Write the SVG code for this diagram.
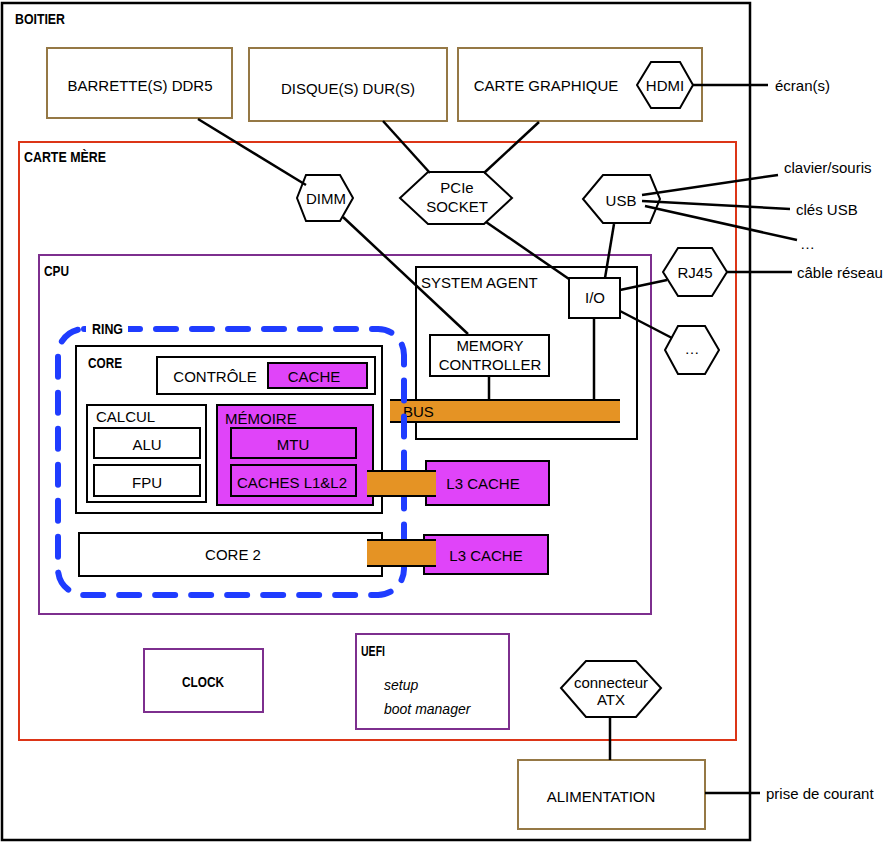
<svg xmlns="http://www.w3.org/2000/svg" width="894" height="842" viewBox="0 0 894 842">
<style>
text{font-family:"Liberation Sans",Arial,sans-serif;font-size:15px;fill:#000}
.c{text-anchor:middle}
.lb{font-weight:bold;font-size:14px}
.it{font-style:italic;font-size:14px}
.brown{fill:#fff;stroke:#957845;stroke-width:2}
.blk{fill:#fff;stroke:#000;stroke-width:2}
.mag{fill:#e044f9;stroke:#000;stroke-width:2}
.pur{fill:none;stroke:#7d2f8e;stroke-width:2}
.hex{fill:#fff;stroke:#000;stroke-width:2}
.ln{stroke:#000;stroke-width:2.5;fill:none}
.orange{fill:#e59324}
.obar{stroke:#000;stroke-width:2}
</style>
<rect width="894" height="842" fill="#fff"/>
<g id="boitier"><rect x="2" y="3" width="748" height="837" fill="none" stroke="#000" stroke-width="2.5"/><text class="lb" x="15" y="24" textLength="50" lengthAdjust="spacingAndGlyphs">BOITIER</text></g>
<g id="carte-mere"><rect x="19" y="142" width="717" height="598" fill="none" stroke="#dc3517" stroke-width="2"/><text class="lb" x="24" y="162" textLength="82" lengthAdjust="spacingAndGlyphs">CARTE MÈRE</text></g>
<g id="cpu"><rect x="39" y="255" width="612" height="359" class="pur"/><text class="lb" x="44" y="276" textLength="25" lengthAdjust="spacingAndGlyphs">CPU</text></g>

<g id="barrette"><rect x="47" y="48" width="185" height="70" class="brown"/><text class="c" x="140" y="91">BARRETTE(S) DDR5</text></g>
<g id="disque"><rect x="249" y="48" width="198" height="73" class="brown"/><text class="c" x="348" y="94">DISQUE(S) DUR(S)</text></g>
<g id="carte-graphique"><rect x="458" y="48" width="244" height="73" class="brown"/><text class="c" x="546" y="91">CARTE GRAPHIQUE</text></g>
<g id="hdmi"><polygon class="hex" points="651,62 680,62 693,85 680,108 651,108 637,85"/><text class="c" x="665" y="91">HDMI</text></g>
<g id="ecran"><text x="775" y="91" font-size="14">écran(s)</text></g>

<g id="dimm"><polygon class="hex" points="306,175 340,175 353,198 340,221 306,221 297,198"/><text class="c" x="326" y="204">DIMM</text></g>
<g id="pcie"><polygon class="hex" points="428,172 484,172 512,198 484,224 428,224 400,198"/><text class="c" x="457" y="193" font-size="14">PCIe</text><text class="c" x="457" y="212" font-size="14">SOCKET</text></g>
<g id="usb"><polygon class="hex" points="603,175 650,175 660,199 650,223 603,223 583,199"/><text class="c" x="621" y="206">USB</text></g>
<g id="ext-usb"><text x="784" y="173" font-size="14">clavier/souris</text><text x="796" y="215" font-size="14">clés USB</text><text x="800" y="249" font-size="14">…</text></g>
<g id="rj45"><polygon class="hex" points="678,248 712,248 727,272 712,296 678,296 663,272"/><text class="c" x="695" y="278">RJ45</text></g>
<g id="cable"><text x="797" y="278" font-size="14">câble réseau</text></g>
<g id="etc"><polygon class="hex" points="678,326 705,326 719,350 705,374 678,374 665,350"/><text class="c" x="692" y="354" font-size="14">…</text></g>

<g id="system-agent"><rect x="416" y="267" width="221" height="172" class="blk"/><text x="421" y="288">SYSTEM AGENT</text></g>
<g id="io"><rect x="569" y="278" width="51" height="40" class="blk"/><text class="c" x="595" y="303">I/O</text></g>
<g id="memory-controller"><rect x="430" y="335" width="119" height="41" class="blk"/><text class="c" x="490" y="351">MEMORY</text><text class="c" x="490" y="370">CONTROLLER</text></g>
<g id="bus"><rect x="390" y="400" width="230" height="22" class="orange"/><line class="obar" x1="390" y1="400" x2="620" y2="400"/><line class="obar" x1="390" y1="422" x2="620" y2="422"/><text x="403" y="417">BUS</text></g>

<g id="ring"><rect x="58" y="329" width="346" height="266" rx="26" fill="none" stroke="#1f3cff" stroke-width="6" stroke-dasharray="20 16" stroke-linecap="round"/><rect x="86" y="320" width="42" height="16" fill="#fff"/><text class="lb" x="92" y="334" textLength="31" lengthAdjust="spacingAndGlyphs">RING</text></g>

<g id="core"><rect x="76" y="346" width="306" height="167" class="blk"/><text class="lb" x="88" y="368" textLength="34" lengthAdjust="spacingAndGlyphs">CORE</text></g>
<g id="controle"><rect x="157" y="357" width="218" height="37" class="blk"/><text class="c" x="215" y="382">CONTRÔLE</text></g>
<g id="cache"><rect x="268" y="363" width="99" height="25" class="mag"/><text class="c" x="314" y="382">CACHE</text></g>
<g id="calcul"><rect x="87" y="405" width="119" height="97" class="blk"/><text x="96" y="422">CALCUL</text></g>
<g id="alu"><rect x="94" y="428" width="106" height="30" class="blk"/><text class="c" x="147" y="450">ALU</text></g>
<g id="fpu"><rect x="94" y="465" width="106" height="31" class="blk"/><text class="c" x="147" y="488">FPU</text></g>
<g id="memoire"><rect x="217" y="405" width="156" height="100" class="mag"/><text x="225" y="424">MÉMOIRE</text></g>
<g id="mtu"><rect x="231" y="428" width="125" height="30" class="mag"/><text class="c" x="293" y="450">MTU</text></g>
<g id="caches-l1l2"><rect x="231" y="465" width="125" height="31" class="mag"/><text class="c" x="292" y="488">CACHES L1&amp;L2</text></g>

<g id="core2"><rect x="79" y="533" width="303" height="43" class="blk"/><text class="c" x="233" y="560">CORE 2</text></g>

<g id="l3-1"><rect x="426" y="461" width="123" height="44" class="mag"/><text class="c" x="483" y="489">L3 CACHE</text></g>
<g id="l3-2"><rect x="424" y="535" width="124" height="39" class="mag"/><text class="c" x="486" y="561">L3 CACHE</text></g>
<g id="link-1"><rect x="367" y="471" width="69" height="25" class="orange"/><line class="obar" x1="367" y1="471" x2="436" y2="471"/><line class="obar" x1="367" y1="496" x2="436" y2="496"/></g>
<g id="link-2"><rect x="367" y="540" width="69" height="26" class="orange"/><line class="obar" x1="367" y1="540" x2="436" y2="540"/><line class="obar" x1="367" y1="566" x2="436" y2="566"/></g>

<g id="clock"><rect x="144" y="649" width="119" height="63" class="pur"/><text class="lb c" x="203" y="687" textLength="42" lengthAdjust="spacingAndGlyphs">CLOCK</text></g>
<g id="uefi"><rect x="356" y="634" width="153" height="95" class="pur"/><text class="lb" x="361" y="656" textLength="24" lengthAdjust="spacingAndGlyphs">UEFI</text><text class="it" x="384" y="690">setup</text><text class="it" x="384" y="714">boot manager</text></g>
<g id="atx"><polygon class="hex" points="586,661 636,661 661,688 636,717 586,717 561,688"/><text class="c" x="611" y="688" font-size="14">connecteur</text><text class="c" x="611" y="705" font-size="14">ATX</text></g>
<g id="alimentation"><rect x="518" y="760" width="187" height="69" class="brown"/><text class="c" x="601" y="802">ALIMENTATION</text></g>
<g id="prise"><text x="766" y="799" font-size="14">prise de courant</text></g>

<g id="connectors">
<line class="ln" x1="198" y1="119" x2="306" y2="185"/>
<line class="ln" x1="343" y1="217" x2="468" y2="334" stroke-width="2"/>
<line class="ln" x1="383" y1="121" x2="430" y2="173"/>
<line class="ln" x1="539" y1="122" x2="484" y2="173"/>
<line class="ln" x1="486" y1="222" x2="569" y2="279"/>
<line class="ln" x1="614" y1="224" x2="605" y2="278"/>
<line class="ln" x1="693" y1="85" x2="768" y2="85" stroke-width="3"/>
<line class="ln" x1="642" y1="195" x2="778" y2="175"/>
<line class="ln" x1="642" y1="201" x2="790" y2="209"/>
<line class="ln" x1="645" y1="206" x2="797" y2="240"/>
<line class="ln" x1="620" y1="290" x2="667" y2="280"/>
<line class="ln" x1="620" y1="311" x2="672" y2="338"/>
<line class="ln" x1="727" y1="272" x2="792" y2="272"/>
<line class="ln" x1="489" y1="376" x2="489" y2="400"/>
<line class="ln" x1="594" y1="318" x2="594" y2="400"/>
<line class="ln" x1="610" y1="717" x2="610" y2="760"/>
<line class="ln" x1="705" y1="793" x2="760" y2="793" stroke-width="3"/>
</g>
</svg>
